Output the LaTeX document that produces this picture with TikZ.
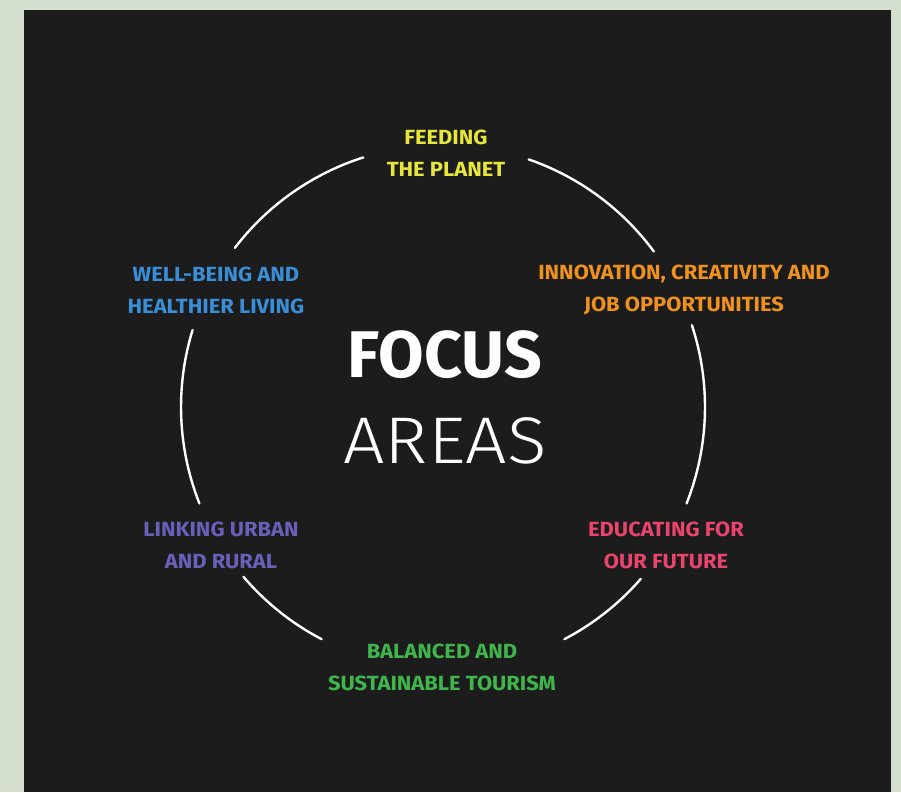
\documentclass[tikz,border=0pt]{standalone}
\usepackage{fontspec}
\setmainfont{Fira Sans}
\newfontfamily\thinfont{Fira Sans Light}[FakeStretch=1.11]

\definecolor{pagebg}{HTML}{D3DECE}
\definecolor{panel}{HTML}{1C1C1C}
\definecolor{feedcol}{HTML}{E6E63C}
\definecolor{wellcol}{HTML}{3A8ED8}
\definecolor{innocol}{HTML}{EF911F}
\definecolor{linkcol}{HTML}{6A5FB9}
\definecolor{educol}{HTML}{E8446C}
\definecolor{tourcol}{HTML}{3FB54C}

\begin{document}
\begin{tikzpicture}[x=1pt, y=1pt,
    area/.style={font=\fontsize{20.5}{32}\selectfont\bfseries\addfontfeatures{FakeStretch=1.07}, align=center},
    ring/.style={white, line width=2.4pt, line cap=round}]
    \useasboundingbox (0,0) rectangle (901,792);

    % page and dark panel
    \fill[pagebg] (0,0) rectangle (901,792);
    \fill[panel] (24,0) rectangle (891,782);

    % ring broken where the labels sit
    \coordinate (hub) at (443,385);
    \foreach \a/\b in {36.4/70.9, -21.6/18.2, -62.4/-41, -139.6/-117.6, 162.9/201.6, 107.7/142.6}
        \draw[ring] (hub) ++(\a:262) arc (\a:\b:262);

    % title in the middle
    \node[white, anchor=base, font=\fontsize{66}{66}\selectfont\bfseries] (focus) at (445,414) {FOCUS};
    \node[white, anchor=base, font=\fontsize{66}{66}\selectfont\thinfont] (areas) at (445,328) {AREAS};

    % the six areas round the ring
    \node[area, feedcol] (feeding) at (446,639) {FEEDING\\THE PLANET};
    \node[area, wellcol] (wellbeing) at (216,502) {WELL-BEING AND\\HEALTHIER LIVING};
    \node[area, innocol] (innovation) at (684,502) {INNOVATION, CREATIVITY AND\\JOB OPPORTUNITIES};
    \node[area, linkcol] (linking) at (221,247) {LINKING URBAN\\AND RURAL};
    \node[area, educol] (educating) at (666,247) {EDUCATING FOR\\OUR FUTURE};
    \node[area, tourcol] (tourism) at (442,125) {BALANCED AND\\SUSTAINABLE TOURISM};
\end{tikzpicture}
\end{document}
